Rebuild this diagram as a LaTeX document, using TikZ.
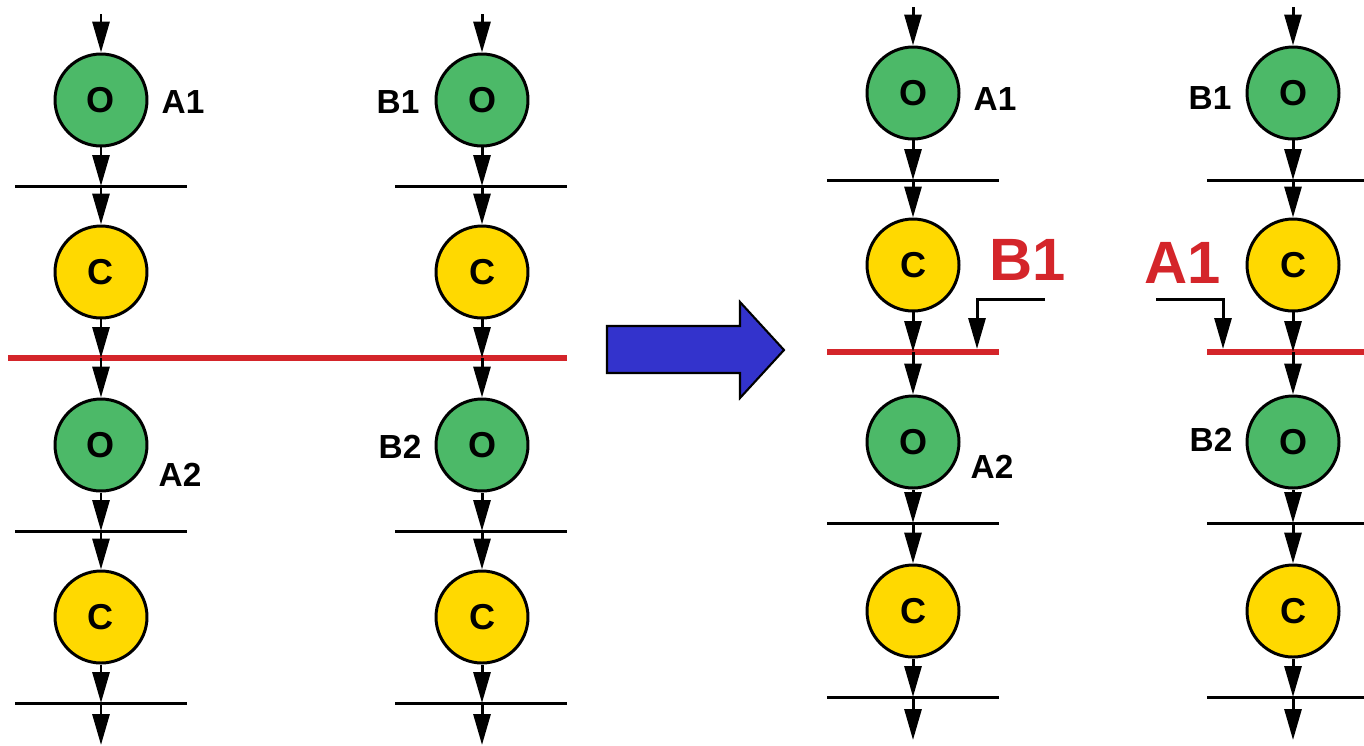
\documentclass[tikz,border=0pt]{standalone}
\usepackage{fontspec}
\setmainfont{Liberation Sans}
\usetikzlibrary{arrows.meta}
\definecolor{opgreen}{RGB}{76,185,104}
\definecolor{cyellow}{RGB}{255,217,0}
\definecolor{cutred}{RGB}{212,37,42}
\definecolor{moveblue}{RGB}{51,51,204}
\begin{document}
\begin{tikzpicture}[
	x=0.02cm, y=-0.02cm,
	stage/.style={circle, draw, line width=1.7pt, minimum size=1.84cm, inner sep=0pt, font=\fontsize{20.5}{23}\selectfont\bfseries},
	opnode/.style={stage, fill=opgreen},
	cnode/.style={stage, fill=cyellow},
	flow/.style={-{Triangle[length=0.62cm,width=0.34cm]}, line width=1.7pt},
	level/.style={line width=1.7pt},
	cut/.style={line width=3.4pt, color=cutred},
	tag/.style={font=\fontsize{19}{22}\selectfont\bfseries},
	bigtag/.style={font=\fontsize{34}{38}\selectfont\bfseries, text=cutred},
	]
	\useasboundingbox (0,0) rectangle (1364,745);
	
	%cut before the move
	\draw[cut] (8,358) -- (567,358);
	
	\begin{scope}[shift={(101,0)}]
	%levels
	\draw[level] (-86,186) -- (86,186);
	\draw[level] (-86,531) -- (86,531);
	\draw[level] (-86,703) -- (86,703);
	\coordinate (aTop) at (0,14);
	\coordinate (aL1) at (0,186);
	\coordinate (aCut) at (0,358);
	\coordinate (aL2) at (0,531);
	\coordinate (aL3) at (0,703);
	\coordinate (aEnd) at (0,745);
	
	%stages
	\node[opnode] (aO1) at (0,100) {O};
	\node[cnode] (aC1) at (0,272) {C};
	\node[opnode] (aO2) at (0,445) {O};
	\node[cnode] (aC2) at (0,617) {C};
	\node[tag] (aTag1) at (82,102) {A1};
	\node[tag] (aTag2) at (79,475) {A2};
	
	%arrows
	\draw[flow] (aTop) -- (aO1);
	\draw[flow] (aO1) -- (aL1);
	\draw[flow] (aL1) -- (aC1);
	\draw[flow] (aC1) -- (aCut);
	\draw[flow] (aCut) -- (aO2);
	\draw[flow] (aO2) -- (aL2);
	\draw[flow] (aL2) -- (aC2);
	\draw[flow] (aC2) -- (aL3);
	\draw[flow] (aL3) -- (aEnd);
	\end{scope}
	
	\begin{scope}[shift={(482,0)}]
	%levels
	\draw[level] (-87,186) -- (85,186);
	\draw[level] (-87,531) -- (85,531);
	\draw[level] (-87,703) -- (85,703);
	\coordinate (bTop) at (0,14);
	\coordinate (bL1) at (0,186);
	\coordinate (bCut) at (0,358);
	\coordinate (bL2) at (0,531);
	\coordinate (bL3) at (0,703);
	\coordinate (bEnd) at (0,745);
	
	%stages
	\node[opnode] (bO1) at (0,100) {O};
	\node[cnode] (bC1) at (0,272) {C};
	\node[opnode] (bO2) at (0,445) {O};
	\node[cnode] (bC2) at (0,617) {C};
	\node[tag] (bTag1) at (-84,102) {B1};
	\node[tag] (bTag2) at (-82,447) {B2};
	
	%arrows
	\draw[flow] (bTop) -- (bO1);
	\draw[flow] (bO1) -- (bL1);
	\draw[flow] (bL1) -- (bC1);
	\draw[flow] (bC1) -- (bCut);
	\draw[flow] (bCut) -- (bO2);
	\draw[flow] (bO2) -- (bL2);
	\draw[flow] (bL2) -- (bC2);
	\draw[flow] (bC2) -- (bL3);
	\draw[flow] (bL3) -- (bEnd);
	\end{scope}
	
	%move
	\draw[line width=1.2pt, fill=moveblue, line join=miter] (607,326) -- (740,326) -- (740,302) -- (784,350) -- (740,398) -- (740,373) -- (607,373) -- cycle;
	
	\begin{scope}[shift={(913,-6)}]
	%levels
	\draw[level] (-86,186) -- (86,186);
	\draw[cut] (-86,358) -- (86,358);
	\draw[level] (-86,529) -- (86,529);
	\draw[level] (-86,703) -- (86,703);
	\coordinate (pTop) at (0,13);
	\coordinate (pL1) at (0,186);
	\coordinate (pCut) at (0,358);
	\coordinate (pL2) at (0,529);
	\coordinate (pL3) at (0,703);
	\coordinate (pEnd) at (0,746);
	
	%stages
	\node[opnode] (pO1) at (0,99) {O};
	\node[cnode] (pC1) at (0,271) {C};
	\node[opnode] (pO2) at (0,448) {O};
	\node[cnode] (pC2) at (0,617) {C};
	\node[tag] (pTag1) at (82,105) {A1};
	\node[tag] (pTag2) at (79,473) {A2};
	
	%arrows
	\draw[flow] (pTop) -- (pO1);
	\draw[flow] (pO1) -- (pL1);
	\draw[flow] (pL1) -- (pC1);
	\draw[flow] (pC1) -- (pCut);
	\draw[flow] (pCut) -- (pO2);
	\draw[flow] (pO2) -- (pL2);
	\draw[flow] (pL2) -- (pC2);
	\draw[flow] (pC2) -- (pL3);
	\draw[flow] (pL3) -- (pEnd);
	
	%moved stage
	\node[bigtag] (pMoved) at (115,266) {B1};
	\coordinate (pFrom) at (132,305);
	\coordinate (pTo) at (64,355);
	\draw[flow] (pFrom) -| (pTo);
	\end{scope}
	
	\begin{scope}[shift={(1293,-6)}]
	%levels
	\draw[level] (-86,186) -- (71,186);
	\draw[cut] (-86,358) -- (71,358);
	\draw[level] (-86,529) -- (71,529);
	\draw[level] (-86,703) -- (71,703);
	\coordinate (qTop) at (0,13);
	\coordinate (qL1) at (0,186);
	\coordinate (qCut) at (0,358);
	\coordinate (qL2) at (0,529);
	\coordinate (qL3) at (0,703);
	\coordinate (qEnd) at (0,746);
	
	%stages
	\node[opnode] (qO1) at (0,99) {O};
	\node[cnode] (qC1) at (0,271) {C};
	\node[opnode] (qO2) at (0,448) {O};
	\node[cnode] (qC2) at (0,617) {C};
	\node[tag] (qTag1) at (-83,104) {B1};
	\node[tag] (qTag2) at (-82,446) {B2};
	
	%arrows
	\draw[flow] (qTop) -- (qO1);
	\draw[flow] (qO1) -- (qL1);
	\draw[flow] (qL1) -- (qC1);
	\draw[flow] (qC1) -- (qCut);
	\draw[flow] (qCut) -- (qO2);
	\draw[flow] (qO2) -- (qL2);
	\draw[flow] (qL2) -- (qC2);
	\draw[flow] (qC2) -- (qL3);
	\draw[flow] (qL3) -- (qEnd);
	
	%moved stage
	\node[bigtag] (qMoved) at (-110,269) {A1};
	\coordinate (qFrom) at (-137,305);
	\coordinate (qTo) at (-70,355);
	\draw[flow] (qFrom) -| (qTo);
	\end{scope}
\end{tikzpicture}
\end{document}
